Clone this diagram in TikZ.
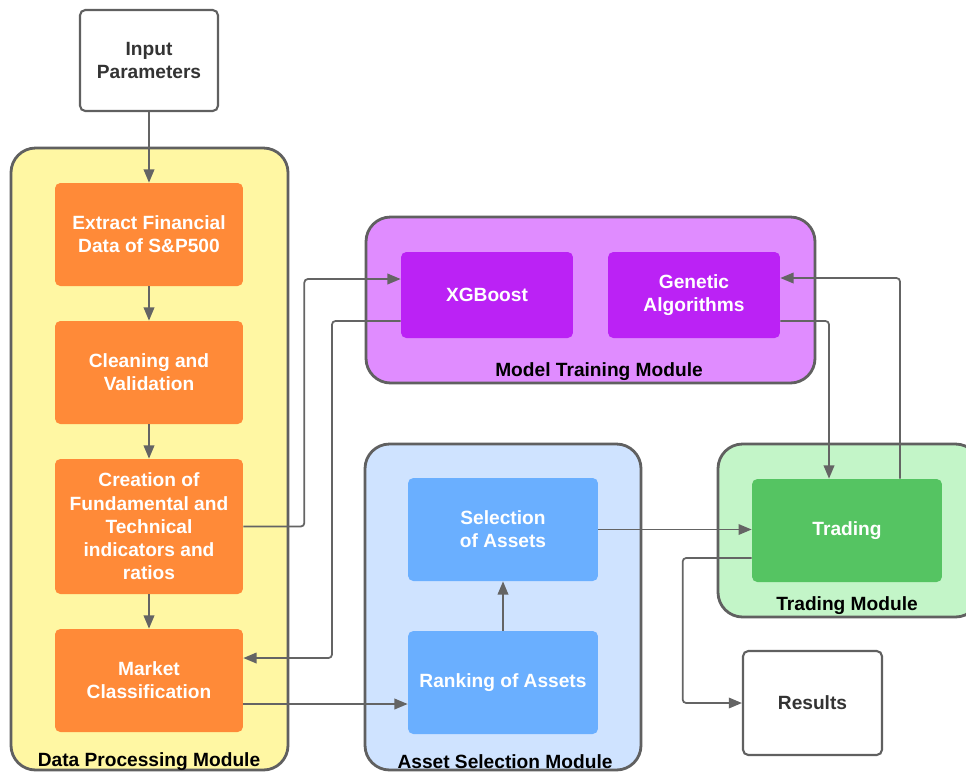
\documentclass[tikz,border=0pt]{standalone}
\usepackage{fontspec}
\setmainfont{Liberation Sans}
\usetikzlibrary{arrows.meta,calc}
\definecolor{bordergray}{HTML}{606060}
\definecolor{linegray}{HTML}{646464}
\definecolor{textgray}{HTML}{333333}
\definecolor{yellowbg}{HTML}{FFF7A3}
\definecolor{orangebox}{HTML}{FF8A38}
\definecolor{purplebg}{HTML}{E08CFF}
\definecolor{purplebox}{HTML}{BB22F5}
\definecolor{bluebg}{HTML}{CFE3FF}
\definecolor{bluebox}{HTML}{6AAFFF}
\definecolor{greenbg}{HTML}{C3F5C8}
\definecolor{greenbox}{HTML}{55C462}
\tikzset{
  container/.style={draw=bordergray, line width=1.6pt, rounded corners=14pt},
  innerbox/.style={rounded corners=3pt, text=white, align=center,
    font=\fontsize{10.9}{13.2}\selectfont\bfseries, inner sep=0pt},
  whitebox/.style={draw=bordergray, line width=1.2pt, fill=white, rounded corners=3pt,
    text=textgray, align=center, font=\fontsize{10.9}{13.2}\selectfont\bfseries, inner sep=0pt},
  modlabel/.style={text=black, font=\fontsize{10.9}{13.2}\selectfont\bfseries, inner sep=0pt},
  conn/.style={draw=linegray, line width=1pt, rounded corners=2pt,
    -{Triangle[length=7.5pt,width=6pt]}},
}
\begin{document}
\begin{tikzpicture}[x=0.02cm, y=-0.02cm]
\clip (0,0) rectangle (966,772);
\fill[white] (0,0) rectangle (966,772);
% containers
\draw[container, fill=yellowbg] (11,148) rectangle (288,770);
\draw[container, fill=purplebg] (366,217) rectangle (815,383);
\draw[container, fill=bluebg] (365,444) rectangle (641,770);
\draw[container, fill=greenbg] (718,444) rectangle (980,617);
\node[modlabel] (lbldata) at (149,762) {Data Processing Module};
\node[modlabel] (lblmodel) at (599,372) {Model Training Module};
\node[modlabel] (lblasset) at (505,762) {Asset Selection Module};
\node[modlabel] (lbltrade) at (847,606) {Trading Module};
% boxes
\node[whitebox, minimum width=2.76cm, minimum height=2.02cm] (inp) at (149,60.5) {Input\\Parameters};
\node[innerbox, fill=orangebox, minimum width=3.76cm, minimum height=2.06cm] (ext) at (149,234.5) {Extract Financial\\Data of S\&P500};
\node[innerbox, fill=orangebox, minimum width=3.76cm, minimum height=2.06cm] (cln) at (149,372.5) {Cleaning and\\Validation};
\node[innerbox, fill=orangebox, minimum width=3.76cm, minimum height=2.7cm] (cre) at (149,526.5) {Creation of\\Fundamental and\\Technical\\indicators and\\ratios};
\node[innerbox, fill=orangebox, minimum width=3.76cm, minimum height=2.06cm] (mkt) at (149,680.5) {Market\\Classification};
\node[innerbox, fill=purplebox, minimum width=3.44cm, minimum height=1.72cm] (xg) at (487,295) {XGBoost};
\node[innerbox, fill=purplebox, minimum width=3.44cm, minimum height=1.72cm] (gen) at (694,295) {Genetic\\Algorithms};
\node[innerbox, fill=bluebox, minimum width=3.8cm, minimum height=2.06cm] (sel) at (503,529.5) {Selection\\of Assets};
\node[innerbox, fill=bluebox, minimum width=3.8cm, minimum height=2.06cm] (rank) at (503,682.5) {Ranking of Assets};
\node[innerbox, fill=greenbox, minimum width=3.8cm, minimum height=2.06cm] (trd) at (847,530.5) {Trading};
\node[whitebox, minimum width=2.78cm, minimum height=2.08cm] (res) at (812.5,703) {Results};
% connectors
\draw[conn] (inp.south) -- (ext.north);
\draw[conn] (ext.south) -- (cln.north);
\draw[conn] (cln.south) -- (cre.north);
\draw[conn] (cre.south) -- (mkt.north);
\draw[conn] (cre.east) -- ++(61,0) |- ([yshift=0.32cm]xg.west);
\draw[conn] ([yshift=-0.52cm]xg.west) -| (332,658) -- ([yshift=0.45cm]mkt.east);
\draw[conn] ([yshift=-0.47cm]mkt.east) -- ([yshift=-0.47cm]mkt.east -| rank.west);
\draw[conn] (rank.north) -- (sel.south);
\draw[conn] (sel.east) -- (sel.east -| trd.west);
\draw[conn] ([yshift=-0.52cm]gen.east) -| ([xshift=-0.36cm]trd.north);
\draw[conn] ([xshift=1.06cm]trd.north) |- ([yshift=0.34cm]gen.east);
\draw[conn] ([yshift=-0.55cm]trd.west) -- ++(-69,0) |- (res.west);
\end{tikzpicture}
\end{document}
